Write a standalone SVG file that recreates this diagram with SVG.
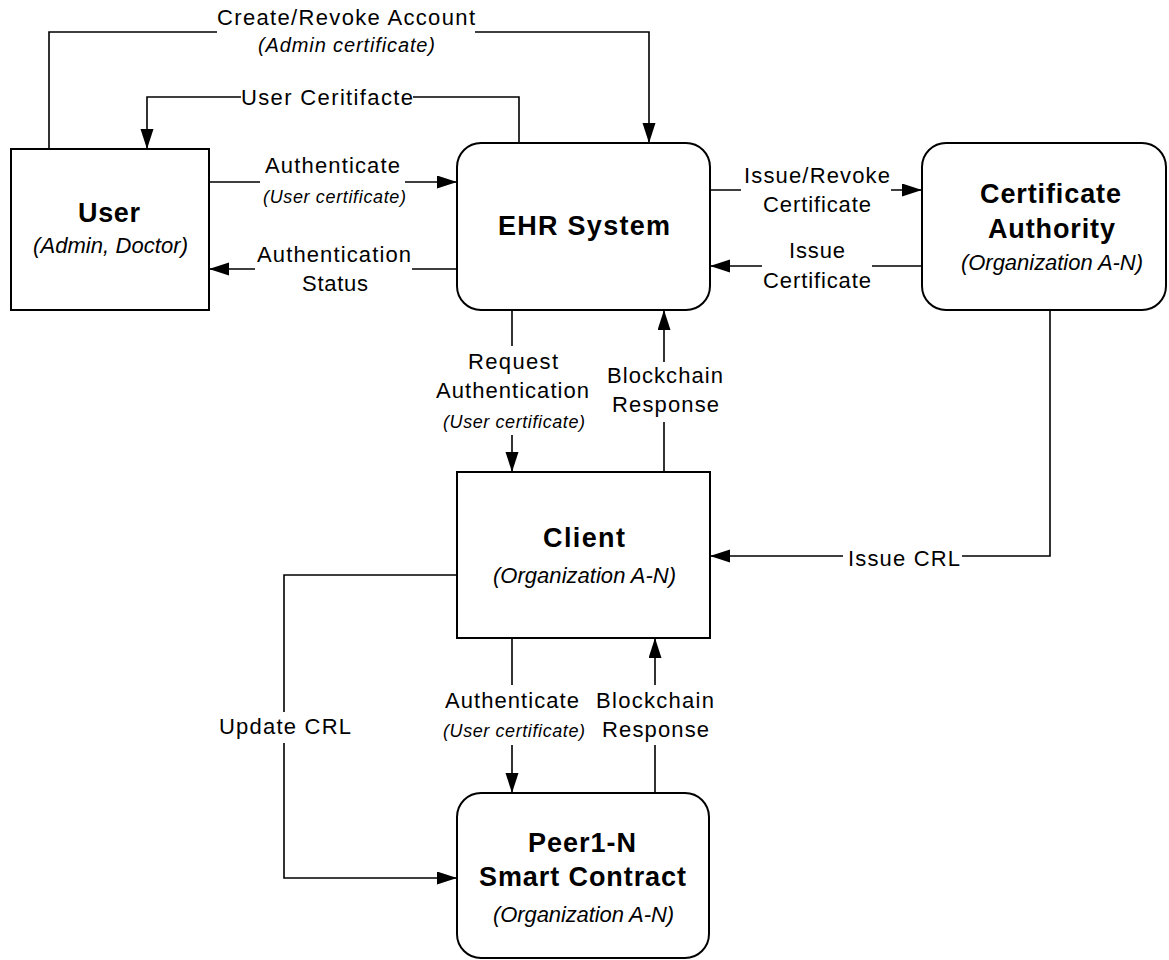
<svg xmlns="http://www.w3.org/2000/svg" width="1169" height="960" viewBox="0 0 1169 960">
  <style>
    .box { fill: #ffffff; stroke: #000000; stroke-width: 2; }
    .conn { fill: none; stroke: #000000; stroke-width: 1.6; marker-end: url(#arrow); }
    text { font-family: "Liberation Sans", Arial, sans-serif; fill: #000000; text-anchor: middle; }
    .lbl { font-size: 22px; }
    .cert { font-size: 18px; font-style: italic; }
    .cert-lg { font-size: 20px; font-style: italic; }
    .title { font-size: 27px; font-weight: bold; }
    .sub { font-size: 22px; font-style: italic; }
  </style>
  <defs>
    <marker id="arrow" markerUnits="userSpaceOnUse" markerWidth="22" markerHeight="14" refX="20" refY="6.5" orient="auto">
      <path d="M0,0 L20,6.5 L0,13 z" fill="#000000"/>
    </marker>
  </defs>

  <rect width="1169" height="960" fill="#ffffff"/>

  <!-- connectors -->
  <g id="connectors">
    <path class="conn" d="M49,149 V32 H217 M475,32 H649 V143"/>
    <path class="conn" d="M519,143 V97 H413 M241,97 H147 V149"/>
    <path class="conn" d="M209,182 H260 M405,182 H457"/>
    <path class="conn" d="M457,269 H412 M255,269 H209"/>
    <path class="conn" d="M710,190 H741 M891,190 H922"/>
    <path class="conn" d="M922,266 H872 M762,266 H710"/>
    <path class="conn" d="M512,310 V346 M512,435 V472"/>
    <path class="conn" d="M664,472 V422 M664,362 V310"/>
    <path class="conn" d="M1050,310 V556 H962 M843,556 H710"/>
    <path class="conn" d="M457,575 H284 V712 M284,743 V878 H457"/>
    <path class="conn" d="M512,638 V685 M512,745 V793"/>
    <path class="conn" d="M655,793 V745 M655,685 V638"/>

    <!-- connector labels -->
    <text class="lbl" x="346" y="25" textLength="258" lengthAdjust="spacing">Create/Revoke Account</text>
    <text class="cert-lg" x="346.5" y="52" textLength="177" lengthAdjust="spacing">(Admin certificate)</text>
    <text class="lbl" x="327" y="105" textLength="172" lengthAdjust="spacing">User Ceritifacte</text>
    <text class="lbl" x="332.5" y="173" textLength="135" lengthAdjust="spacing">Authenticate</text>
    <text class="cert" x="334.5" y="203" textLength="143" lengthAdjust="spacing">(User certificate)</text>
    <text class="lbl" x="334" y="262" textLength="154" lengthAdjust="spacing">Authentication</text>
    <text class="lbl" x="335" y="291" textLength="66" lengthAdjust="spacing">Status</text>
    <text class="lbl" x="817" y="183" textLength="146" lengthAdjust="spacing">Issue/Revoke</text>
    <text class="lbl" x="817" y="212" textLength="108" lengthAdjust="spacing">Certificate</text>
    <text class="lbl" x="817" y="258" textLength="56" lengthAdjust="spacing">Issue</text>
    <text class="lbl" x="817" y="288" textLength="108" lengthAdjust="spacing">Certificate</text>
    <text class="lbl" x="513" y="369" textLength="90" lengthAdjust="spacing">Request</text>
    <text class="lbl" x="512.5" y="398" textLength="153" lengthAdjust="spacing">Authentication</text>
    <text class="cert" x="514" y="428" textLength="142" lengthAdjust="spacing">(User certificate)</text>
    <text class="lbl" x="665" y="383" textLength="116" lengthAdjust="spacing">Blockchain</text>
    <text class="lbl" x="665.5" y="412" textLength="107" lengthAdjust="spacing">Response</text>
    <text class="lbl" x="904" y="566" textLength="112" lengthAdjust="spacing">Issue CRL</text>
    <text class="lbl" x="285" y="734" textLength="132" lengthAdjust="spacing">Update CRL</text>
    <text class="lbl" x="512" y="708" textLength="134" lengthAdjust="spacing">Authenticate</text>
    <text class="cert" x="514" y="737" textLength="142" lengthAdjust="spacing">(User certificate)</text>
    <text class="lbl" x="655" y="708" textLength="118" lengthAdjust="spacing">Blockchain</text>
    <text class="lbl" x="655.5" y="737" textLength="107" lengthAdjust="spacing">Response</text>
  </g>

  <!-- nodes -->
  <g id="user">
    <rect class="box" x="11" y="149" width="198" height="161"/>
    <text class="title" x="109" y="222" textLength="62" lengthAdjust="spacing">User</text>
    <text class="sub" x="110.5" y="253" textLength="155" lengthAdjust="spacing">(Admin, Doctor)</text>
  </g>

  <g id="ehr-system">
    <rect class="box" x="457" y="143" width="253" height="167" rx="24" ry="24"/>
    <text class="title" x="584" y="235" textLength="172" lengthAdjust="spacing">EHR System</text>
  </g>

  <g id="certificate-authority">
    <rect class="box" x="922" y="143" width="244" height="167" rx="24" ry="24"/>
    <text class="title" x="1050.5" y="203" textLength="141" lengthAdjust="spacing">Certificate</text>
    <text class="title" x="1051.5" y="238" textLength="127" lengthAdjust="spacing">Authority</text>
    <text class="sub" x="1052" y="270" textLength="182" lengthAdjust="spacing">(Organization A-N)</text>
  </g>

  <g id="client">
    <rect class="box" x="457" y="472" width="253" height="166"/>
    <text class="title" x="584" y="547" textLength="82" lengthAdjust="spacing">Client</text>
    <text class="sub" x="584.5" y="583" textLength="183" lengthAdjust="spacing">(Organization A-N)</text>
  </g>

  <g id="peer-smart-contract">
    <rect class="box" x="457" y="793" width="252" height="165" rx="24" ry="24"/>
    <text class="title" x="582" y="852" textLength="108" lengthAdjust="spacing">Peer1-N</text>
    <text class="title" x="582.5" y="886" textLength="207" lengthAdjust="spacing">Smart Contract</text>
    <text class="sub" x="583.5" y="922" textLength="181" lengthAdjust="spacing">(Organization A-N)</text>
  </g>
</svg>
